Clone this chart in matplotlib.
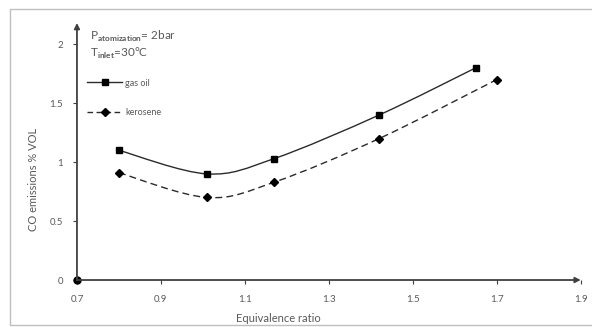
import numpy as np
import matplotlib
matplotlib.use("Agg")
import matplotlib.pyplot as plt
from matplotlib.path import Path
from matplotlib.patches import PathPatch, Rectangle
from matplotlib.lines import Line2D

plt.rcParams["font.family"] = ["Lato", "DejaVu Sans"]
plt.rcParams["mathtext.fontset"] = "custom"
plt.rcParams["mathtext.rm"] = "Lato"
plt.rcParams["mathtext.bf"] = "Lato:bold"

# ---- data ----
gas_oil_x = [0.80, 1.01, 1.17, 1.42, 1.65]
gas_oil_y = [1.10, 0.90, 1.03, 1.40, 1.80]
kerosene_x = [0.80, 1.01, 1.17, 1.42, 1.70]
kerosene_y = [0.91, 0.70, 0.83, 1.20, 1.70]

x_ticks = [0.7, 0.9, 1.1, 1.3, 1.5, 1.7, 1.9]
y_ticks = [0, 0.5, 1, 1.5, 2]
y_tick_labels = ["0", "0.5", "1", "1.5", "2"]

TXT = "#595959"
AX = "#404040"


def smooth_path(xs, ys):
    """Excel-like smoothed line: Catmull-Rom as cubic Bezier segments."""
    p = np.column_stack([xs, ys]).astype(float)
    n = len(p)
    verts = [p[0]]
    codes = [Path.MOVETO]
    for i in range(n - 1):
        p0 = p[i - 1] if i > 0 else p[i]
        p3 = p[i + 2] if i + 2 < n else p[i + 1]
        c1 = p[i] + (p[i + 1] - p0) / 6.0
        c2 = p[i + 1] - (p3 - p[i]) / 6.0
        verts += [c1, c2, p[i + 1]]
        codes += [Path.CURVE4] * 3
    return Path(verts, codes)


fig = plt.figure(figsize=(5.92, 3.27), dpi=100)
ax = fig.add_axes([0.130, 0.1437, 0.851, 0.786])

ax.add_patch(PathPatch(smooth_path(gas_oil_x, gas_oil_y), fill=False,
                       edgecolor="#2b2b2b", lw=1.0))
ax.add_patch(PathPatch(smooth_path(kerosene_x, kerosene_y), fill=False,
                       edgecolor="#2b2b2b", lw=1.0, linestyle=(0, (5, 3))))
ax.plot(gas_oil_x, gas_oil_y, "s", color="black", ms=4.5, ls="none")
ax.plot(kerosene_x, kerosene_y, "D", color="black", ms=4.2, ls="none")

ax.set_xlim(0.7, 1.9)
ax.set_ylim(0, 2.18)
ax.set_xticks(x_ticks)
ax.set_xticklabels([f"{v:.1f}" for v in x_ticks])
ax.set_yticks(y_ticks)
ax.set_yticklabels(y_tick_labels)
ax.tick_params(axis="both", colors=AX, labelcolor=TXT, labelsize=7,
               direction="out", length=3, width=0.8)
ax.tick_params(axis="y", pad=7)
ax.tick_params(axis="x", pad=8)

for s in ax.spines.values():
    s.set_visible(False)

# axes drawn as arrows
ax.annotate("", xy=(1.0, 0), xytext=(0, 0), xycoords="axes fraction",
            arrowprops=dict(arrowstyle="-|>", color=AX, lw=1.3,
                            mutation_scale=8, shrinkA=0, shrinkB=0),
            annotation_clip=False)
ax.annotate("", xy=(0, 1.0), xytext=(0, 0), xycoords="axes fraction",
            arrowprops=dict(arrowstyle="-|>", color=AX, lw=1.3,
                            mutation_scale=8, shrinkA=0, shrinkB=0),
            annotation_clip=False)
ax.plot([0], [0], "o", color="black", ms=5, transform=ax.transAxes, clip_on=False)

ax.set_xlabel("Equivalence ratio", fontsize=8, color=TXT)
ax.xaxis.set_label_coords(0.40, -0.13)
ax.set_ylabel("CO emissions % VOL", fontsize=8, color=TXT)
ax.yaxis.set_label_coords(-0.075, 0.39)

ax.text(0.026, 0.946, r"P$_{\mathbf{atomization}}$= 2bar", transform=ax.transAxes,
        fontsize=8.5, color=TXT, va="center", ha="left")
ax.text(0.026, 0.883, r"T$_{\mathbf{inlet}}$=30°C", transform=ax.transAxes,
        fontsize=8.5, color=TXT, va="center", ha="left")

handles = [
    Line2D([], [], color="#2b2b2b", lw=1.0, marker="s", ms=4.5, mfc="black", mec="black"),
    Line2D([], [], color="#2b2b2b", lw=1.0, ls=(0, (4, 2.5)), marker="D", ms=4.2,
           mfc="black", mec="black"),
]
leg = ax.legend(handles, ["gas oil", "kerosene"], loc="center left",
                bbox_to_anchor=(0.02, 0.708), frameon=False, fontsize=6.5,
                handlelength=3.9, handletextpad=0.3, labelspacing=2.3,
                borderpad=0, borderaxespad=0, numpoints=1)
for t in leg.get_texts():
    t.set_color(TXT)

# light frame around the chart area
fig.patches.append(Rectangle((10 / 592, 2 / 327), 1.2, 0.965, transform=fig.transFigure,
                             fill=False, edgecolor="#bfbfbf", lw=1.0))

fig.savefig("out.png", dpi=100)
